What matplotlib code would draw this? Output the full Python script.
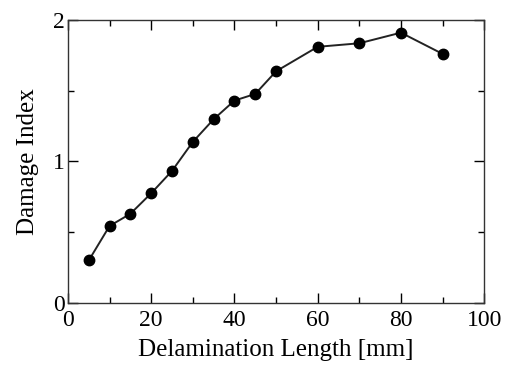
import matplotlib
matplotlib.use("Agg")
import matplotlib.pyplot as plt
from matplotlib.ticker import MultipleLocator

# delamination length [mm] vs damage index
length_mm = [5, 10, 15, 20, 25, 30, 35, 40, 45, 50, 60, 70, 80, 90]
damage_index = [0.30, 0.544, 0.63, 0.775, 0.933, 1.138, 1.298, 1.43, 1.477,
                1.637, 1.81, 1.835, 1.91, 1.76]

plt.rcParams["font.family"] = ["Liberation Serif", "DejaVu Serif"]

fig = plt.figure(figsize=(5.07, 3.69), dpi=100)
ax = fig.add_axes([0.134, 0.179, 0.821, 0.767])

ax.plot(length_mm, damage_index, color="#222222", lw=1.4,
        marker="o", markersize=7.5, markerfacecolor="black", markeredgecolor="black")

ax.set_xlim(0, 100)
ax.set_ylim(0, 2)
ax.xaxis.set_major_locator(MultipleLocator(20))
ax.xaxis.set_minor_locator(MultipleLocator(10))
ax.yaxis.set_major_locator(MultipleLocator(1))
ax.yaxis.set_minor_locator(MultipleLocator(0.5))
ax.tick_params(which="both", direction="in", top=True, right=True, labelsize=17, width=1.0)
ax.tick_params(which="major", length=7)
ax.tick_params(which="minor", length=4)
ax.tick_params(axis="x", pad=5)
ax.tick_params(axis="y", pad=2)
for s in ax.spines.values():
    s.set_linewidth(1.0)
    s.set_color("#333333")

ax.set_xlabel("Delamination Length [mm]", fontsize=18, labelpad=6)
ax.set_ylabel("Damage Index", fontsize=18, labelpad=10)

fig.savefig("out.png", dpi=100)
